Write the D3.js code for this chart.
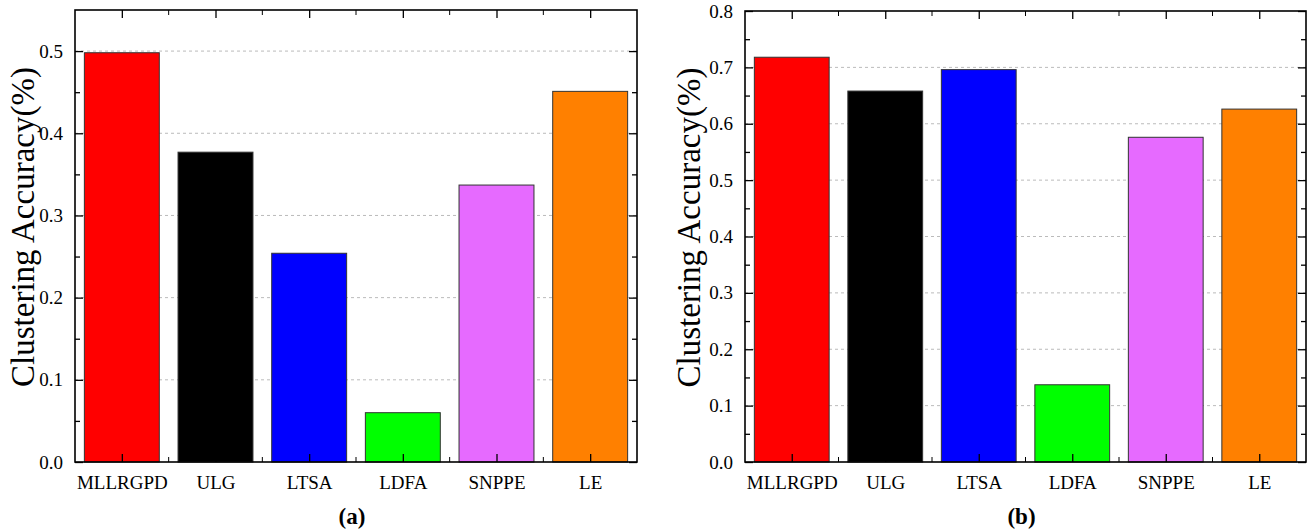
<!DOCTYPE html>
<html>
<head>
<meta charset="utf-8">
<script src="https://cdn.jsdelivr.net/npm/d3@7"></script>
<style>
  body { margin: 0; background: #fff; }
</style>
</head>
<body>
<div id="chart-area"></div>
<script>
// data
const methods = ["MLLRGPD", "ULG", "LTSA", "LDFA", "SNPPE", "LE"]
const colors = ["#ff0000", "#000000", "#0000ff", "#00ff00", "#e66aff", "#ff8000"]
const accA = [0.498, 0.377, 0.254, 0.060, 0.337, 0.451]
const accB = [0.718, 0.658, 0.696, 0.137, 0.576, 0.626]
const ticksA = [0, 0.1, 0.2, 0.3, 0.4, 0.5]
const ticksB = [0, 0.1, 0.2, 0.3, 0.4, 0.5, 0.6, 0.7, 0.8]

const FONT = '"Liberation Serif", "Times New Roman", serif'
const svg = d3.select("#chart-area").append("svg").attr("width", 1312).attr("height", 532)

function panel(opts) {
  const { left, right, top, bottom, yMax, values, ticks, label, labelX } = opts
  const g = svg.append("g")

  const x = d3.scaleBand().domain(methods).range([left, right]).paddingInner(0.2).paddingOuter(0.1)
  const y = d3.scaleLinear().domain([0, yMax]).range([bottom, top])
  const step = x.step()

  // grid
  g.selectAll(".grid").data(ticks.filter(t => t > 0 && y(t) > top + 2))
    .enter().append("line")
    .attr("x1", left).attr("x2", right)
    .attr("y1", d => y(d)).attr("y2", d => y(d))
    .attr("stroke", "#bbb").attr("stroke-width", 1).attr("stroke-dasharray", "3,3")

  // bars
  g.selectAll("rect.bar").data(values).enter().append("rect")
    .attr("x", (d, i) => x(methods[i]))
    .attr("y", d => y(d))
    .attr("width", x.bandwidth())
    .attr("height", d => bottom - y(d))
    .attr("fill", (d, i) => colors[i])
    .attr("stroke", "#333").attr("stroke-width", 1)

  // y axis, ticks pointing inward
  const yAxis = d3.axisLeft(y).tickValues(ticks).tickFormat(d3.format(".1f")).tickSize(-8).tickPadding(12)
  g.append("g").attr("transform", `translate(${left},0)`).call(yAxis)
    .call(a => a.select(".domain").remove())
    .call(a => a.selectAll("text").style("font-size", "19px"))
  const minorY = d3.range(0.05, yMax, 0.1)
  g.append("g").attr("transform", `translate(${left},0)`)
    .call(d3.axisLeft(y).tickValues(minorY).tickSize(-5).tickFormat(""))
    .call(a => a.select(".domain").remove())
  g.append("g").attr("transform", `translate(${right},0)`)
    .call(d3.axisRight(y).tickValues(ticks).tickSize(-8).tickFormat(""))
    .call(a => a.select(".domain").remove())
  g.append("g").attr("transform", `translate(${right},0)`)
    .call(d3.axisRight(y).tickValues(minorY).tickSize(-5).tickFormat(""))
    .call(a => a.select(".domain").remove())

  // x axis, major at centres, minor between categories
  const xc = d3.scalePoint().domain(methods).range([left + step / 2, right - step / 2])
  g.append("g").attr("transform", `translate(0,${bottom})`)
    .call(d3.axisBottom(xc).tickSize(-8).tickPadding(14))
    .call(a => a.select(".domain").remove())
    .call(a => a.selectAll("text").style("font-size", "19px"))
  g.append("g").attr("transform", `translate(0,${top})`)
    .call(d3.axisTop(xc).tickSize(-8).tickFormat(""))
    .call(a => a.select(".domain").remove())
  const minorX = d3.range(1, methods.length).map(i => left + step * i)
  g.selectAll(".mxb").data(minorX).enter().append("line")
    .attr("x1", d => d).attr("x2", d => d).attr("y1", bottom).attr("y2", bottom - 5)
    .attr("stroke", "#000")
  g.selectAll(".mxt").data(minorX).enter().append("line")
    .attr("x1", d => d).attr("x2", d => d).attr("y1", top).attr("y2", top + 5)
    .attr("stroke", "#000")
  g.selectAll(".tick line").attr("stroke", "#000").attr("stroke-width", 1.3)

  // frame
  g.append("rect").attr("x", left).attr("y", top).attr("width", right - left).attr("height", bottom - top)
    .attr("fill", "none").attr("stroke", "#000").attr("stroke-width", 1.6)

  // y label
  g.append("text")
    .attr("transform", `translate(${labelX},${(top + bottom) / 2 - 9}) rotate(-90)`)
    .attr("text-anchor", "middle").attr("dominant-baseline", "middle")
    .style("font-size", "33px")
    .text("Clustering Accuracy(%)")

  // panel caption
  g.append("text")
    .attr("x", (left + right) / 2 - 4).attr("y", 524)
    .attr("text-anchor", "middle")
    .style("font-size", "23px").style("font-weight", "bold")
    .text(label)

  g.selectAll("text").style("font-family", FONT).attr("fill", "#000")
}

panel({ left: 75, right: 637, top: 10, bottom: 462, yMax: 0.55, values: accA, ticks: ticksA, label: "(a)", labelX: 26 })
panel({ left: 745, right: 1306, top: 11, bottom: 462, yMax: 0.8, values: accB, ticks: ticksB, label: "(b)", labelX: 692 })
</script>
</body>
</html>
